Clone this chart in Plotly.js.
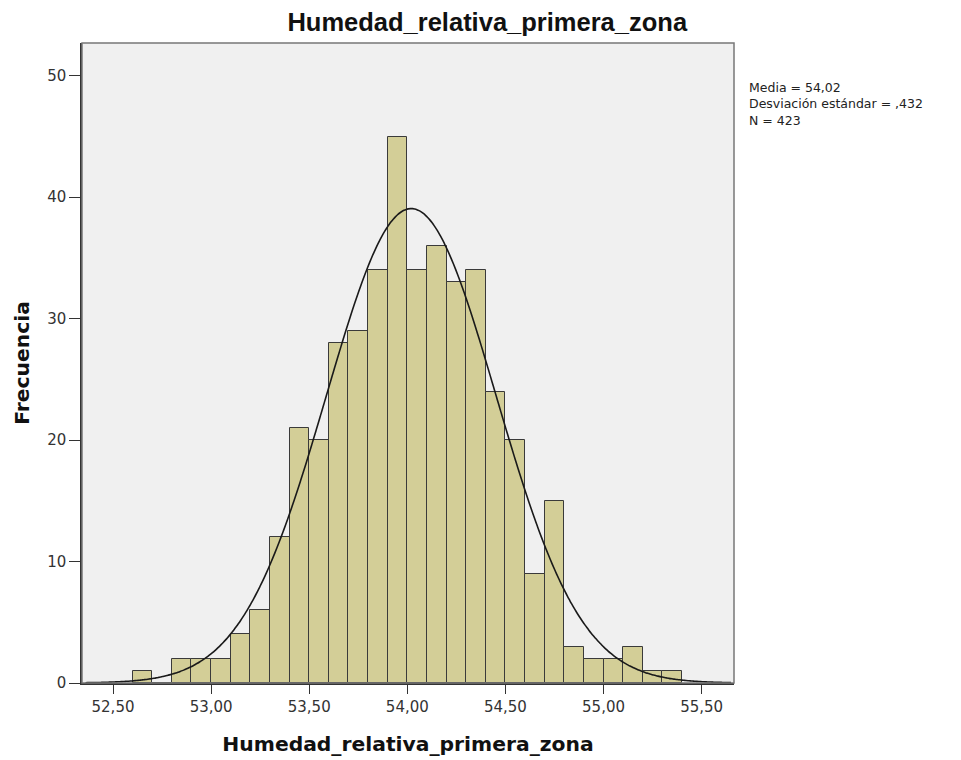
<!DOCTYPE html>
<html>
<head>
<meta charset="utf-8">
<script src="https://cdn.plot.ly/plotly-3.0.1.min.js"></script>
<style>html,body{margin:0;padding:0;background:#fff;}#chart{width:961px;height:760px;}</style>
</head>
<body>
<div id="chart"></div>
<script>
// Histogram bins (lower edges) and frequencies
const binStarts = [52.6,52.7,52.8,52.9,53.0,53.1,53.2,53.3,53.4,53.5,53.6,53.7,53.8,53.9,54.0,54.1,54.2,54.3,54.4,54.5,54.6,54.7,54.8,54.9,55.0,55.1,55.2,55.3];
const counts    = [1,0,2,2,2,4,6,12,21,20,28,29,34,45,34,36,33,34,24,20,9,15,3,2,2,3,1,1];
const binWidth = 0.1;
// Summary statistics shown on the chart
const mean = 54.02;
const sd = 0.432;
const n = 423;
const statLines = ['Media = 54,02', 'Desviación estándar = ,432', 'N = 423'];
const xTicks = [52.5,53.0,53.5,54.0,54.5,55.0,55.5];
const yTicks = [0,10,20,30,40,50];

const binCenters = binStarts.map(b => +(b + binWidth/2).toFixed(3));

// fitted normal curve (from displayed mean, sd, N)
const curveX = [], curveY = [];
for (let i = 0; i <= 300; i++) {
  const x = 52.36 + i * (55.65 - 52.36) / 300;
  curveX.push(x);
  curveY.push(n * binWidth / (sd * Math.sqrt(2*Math.PI)) * Math.exp(-0.5*Math.pow((x-mean)/sd,2)));
}

const arial = "Liberation Sans, Arial, sans-serif";
const wide = "DejaVu Sans, Verdana, sans-serif";
const data = [
  {type:'bar', x: binCenters, y: counts, width: binWidth,
   marker:{color:'#d3ce97', line:{color:'#3a3a3a', width:1}}, hoverinfo:'x+y'},
  {type:'scatter', mode:'lines', x: curveX, y: curveY,
   line:{color:'#1a1a1a', width:1.6, shape:'spline'}, hoverinfo:'skip'}
];

const H = 760;

const layout = {
  width:961, height:760,
  paper_bgcolor:'#ffffff', plot_bgcolor:'#f0f0f0',
  showlegend:false,
  separators:',.',
  margin:{l:82, r:227, t:43, b:77},
  bargap:0,
  font:{family:wide, color:'#222', size:14},
  title:{text:'<b>Humedad_relativa_primera_zona</b>', xref:'container', x:0.507, xanchor:'center', yref:'container', y:1 - 22/H, yanchor:'middle', font:{family:arial, size:25.5, color:'#111'}},
  xaxis:{range:[52.342,55.665], tickvals:xTicks, tickformat:'.2f', ticks:'outside', ticklen:9, tickcolor:'#333',
         showline:true, linecolor:'#333', linewidth:1.5, mirror:false, showgrid:false, zeroline:false,
         tickfont:{family:wide, size:15, color:'#333'},
         title:{text:'<b>Humedad_relativa_primera_zona</b>', standoff:22, font:{family:wide, size:20.3, color:'#111'}}},
  yaxis:{range:[0,52.7], tickvals:yTicks, ticks:'outside', ticklen:11, tickcolor:'#333',
         showline:true, linecolor:'#333', linewidth:1.5, showgrid:false, zeroline:false,
         tickfont:{family:wide, size:15, color:'#333'},
         title:{text:'<b>Frecuencia</b>', standoff:12, font:{family:wide, size:20.3, color:'#111'}}},
  shapes:[
    {type:'rect', xref:'paper', yref:'paper', x0:0, x1:1, y0:0, y1:1, line:{color:'#777', width:1.5}, fillcolor:'rgba(0,0,0,0)', layer:'above'}
  ],
  annotations:[
    {xref:'paper', yref:'paper', x:1.02, y:(683.3 - 78) / (683.3 - 43), xanchor:'left', yanchor:'top', align:'left', showarrow:false,
     text: statLines.join('<br>'), font:{family:wide, size:12.5, color:'#222'}}
  ]
};

Plotly.newPlot('chart', data, layout, {displayModeBar:false, responsive:false});
</script>
</body>
</html>
